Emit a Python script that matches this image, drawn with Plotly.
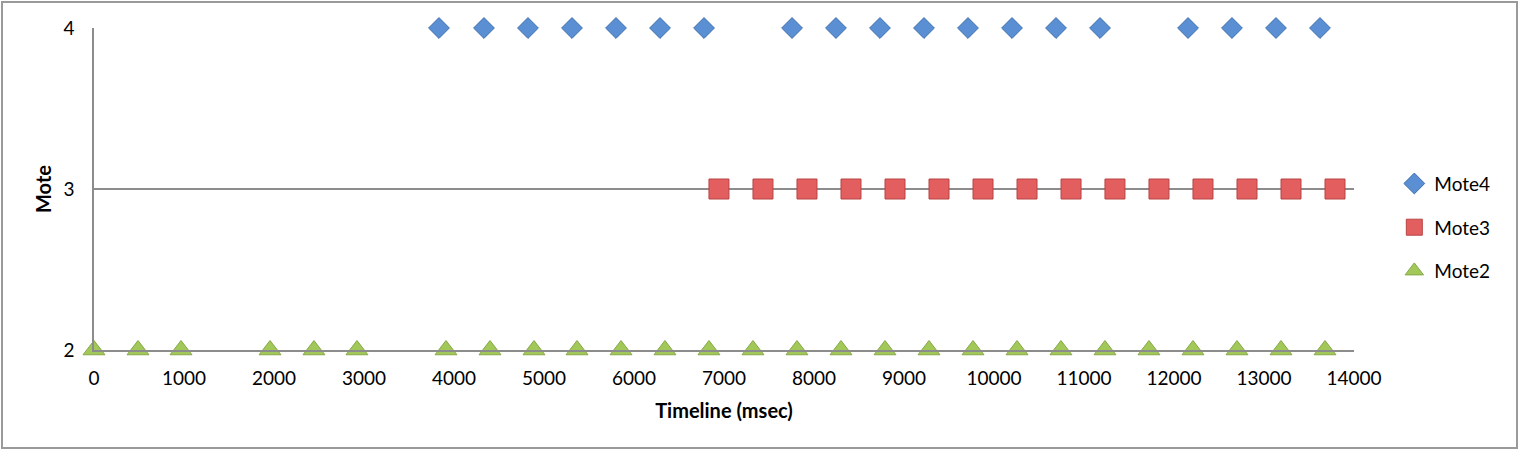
import plotly.graph_objects as go

# timestamps (msec)
mote4_t = [3833, 4333, 4822, 5311, 5800, 6289, 6778, 7756, 8244, 8733, 9222,
           9711, 10200, 10689, 11178, 12156, 12644, 13133, 13622]
mote3_t = [6944, 7433, 7922, 8411, 8900, 9389, 9878, 10367, 10856, 11344,
           11833, 12322, 12811, 13300, 13789]
mote2_t = [0, 489, 967, 1956, 2444, 2922, 3911, 4400, 4889, 5367, 5856, 6344,
           6833, 7322, 7811, 8300, 8789, 9278, 9767, 10256, 10744, 11233,
           11722, 12211, 12700, 13189, 13678]

series = [
    ("Mote4", mote4_t, 4, "diamond", 16, "#5b8fd4", "#3f6fae"),
    ("Mote3", mote3_t, 3, "square", 20, "#e35f5f", "#b84444"),
    ("Mote2", mote2_t, 2, "triangle-up", 19, "#a2c85a", "#86a846"),
]

fig = go.Figure()
for name, xs, mote, sym, size, col, edge in series:
    fig.add_trace(go.Scatter(
        x=xs, y=[mote] * len(xs), name=name, mode="markers",
        legendgroup=name, cliponaxis=False,
        marker=dict(symbol=sym, size=size, color=col,
                    line=dict(color=edge, width=1)),
    ))

W, H = 1521, 452
L, R, T, B = 94, 167, 28, 102
pw, ph = W - L - R, H - T - B

fig.update_layout(
    width=W, height=H,
    margin=dict(l=L, r=R, t=T, b=B),
    paper_bgcolor="white", plot_bgcolor="white",
    font=dict(family="Lato, Open Sans, sans-serif", size=19, color="black"),
    legend=dict(x=1.032, xanchor="left", y=0.38, yanchor="middle",
                tracegroupgap=16, itemwidth=30, font=dict(size=19)),
    xaxis=dict(range=[0, 14000], dtick=1000, tickformat="d", showgrid=False,
               showline=True, linecolor="#8c8c8c", linewidth=1.5,
               ticks="", ticklabelstandoff=10, zeroline=False,
               title=dict(text="<b>Timeline (msec)</b>", standoff=16,
                          font=dict(size=20))),
    yaxis=dict(range=[2, 4], dtick=1, showgrid=True, gridcolor="#8c8c8c",
               gridwidth=1.5, showline=True, linecolor="#8c8c8c",
               linewidth=1.5, ticks="", ticklabelstandoff=14, zeroline=False,
               title=dict(text="<b>Mote</b>", standoff=6,
                          font=dict(size=20))),
    shapes=[dict(type="rect", xref="paper", yref="paper",
                 x0=(2 - L) / pw, x1=(W - 4 - L) / pw,
                 y0=-(H - 4 - T - ph) / ph, y1=1 + (T - 2) / ph,
                 line=dict(color="#9a9a9a", width=2), layer="below")],
)

fig.write_html("out.html", config={"displayModeBar": False},
               post_script="document.body.style.margin='0';")
